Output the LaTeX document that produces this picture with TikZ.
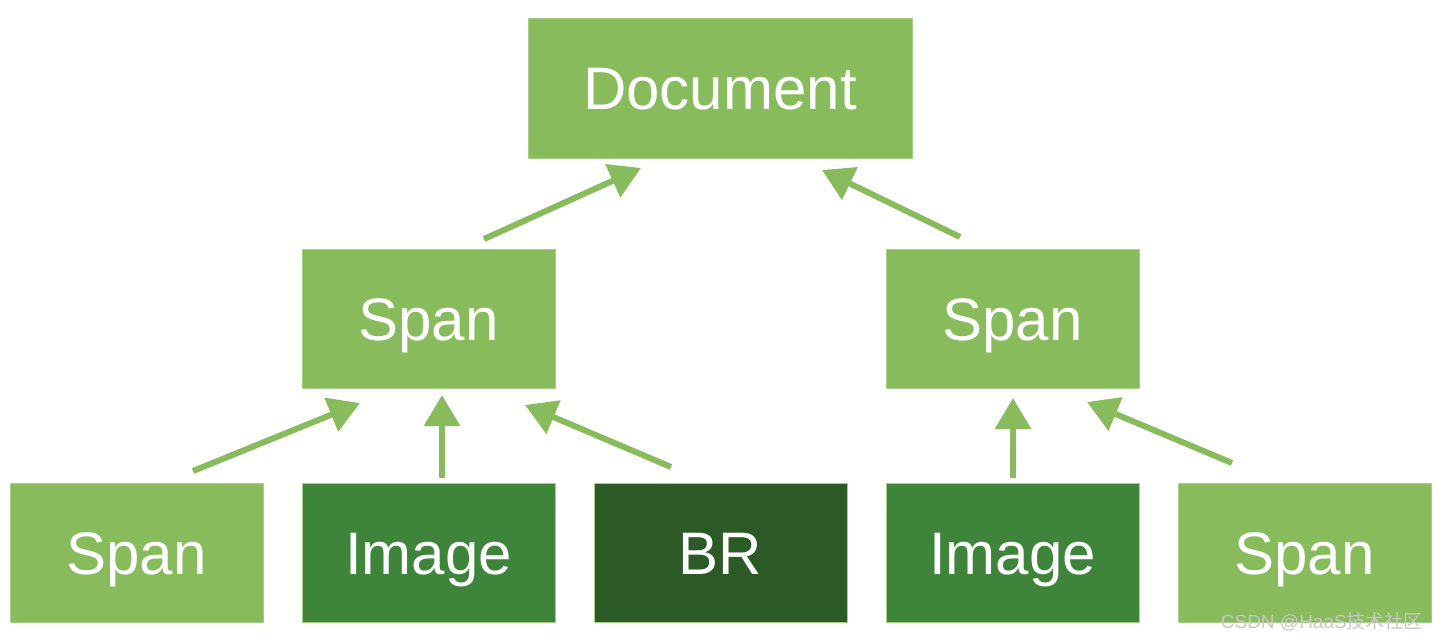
\documentclass[tikz,border=0pt]{standalone}
\usepackage{fontspec}
\setmainfont{Liberation Sans}
\newfontfamily\cjkfont{Noto Sans CJK SC}
\usetikzlibrary{arrows.meta}
\definecolor{lightg}{HTML}{88BB5C}
\definecolor{midg}{HTML}{3E843A}
\definecolor{darkg}{HTML}{2C5A27}
\definecolor{edgeg}{HTML}{A5D08A}
\definecolor{wmgray}{HTML}{C8C8C8}
\tikzset{
  box/.style={draw=edgeg, line width=1pt, minimum width=253pt, minimum height=139pt, inner sep=0pt,
    text=white, font=\fontsize{60}{60}\selectfont, text height=43pt, text depth=0pt},
  lbox/.style={box, fill=lightg},
  mbox/.style={box, fill=midg},
  dbox/.style={box, fill=darkg},
  conn/.style={draw=lightg, line width=6pt, -{Triangle[length=31pt,width=35pt]}},
}
\begin{document}
\begin{tikzpicture}[x=1pt,y=-1pt]
\useasboundingbox[fill=white] (0,0) rectangle (1438,640);
\node[lbox, minimum width=384pt, minimum height=140pt] (doc) at (720,88) {Document};
\node[lbox] (spanL) at (428.5,318.5) {Span};
\node[lbox] (spanR) at (1012.5,318.5) {Span};
\node[lbox] (b1) at (136.5,552.5) {Span};
\node[mbox] (b2) at (428.5,552.5) {Image};
\node[dbox] (b3) at (720.5,552.5) {BR};
\node[mbox] (b4) at (1012.5,552.5) {Image};
\node[lbox] (b5) at (1304.5,552.5) {Span};
% arrow endpoints
\coordinate (a1s) at (484,239); \coordinate (a1e) at (641,168);
\coordinate (a2s) at (960,237); \coordinate (a2e) at (822,170);
\coordinate (a3s) at (193,471); \coordinate (a3e) at (360,403);
\coordinate (a4s) at (442,478); \coordinate (a4e) at (442,395);
\coordinate (a5s) at (671,467); \coordinate (a5e) at (525,405);
\coordinate (a6s) at (1013,478); \coordinate (a6e) at (1013,398);
\coordinate (a7s) at (1232,463); \coordinate (a7e) at (1087,402);
\draw[conn] (a1s) -- (a1e);
\draw[conn] (a2s) -- (a2e);
\draw[conn] (a3s) -- (a3e);
\draw[conn] (a4s) -- (a4e);
\draw[conn] (a5s) -- (a5e);
\draw[conn] (a6s) -- (a6e);
\draw[conn] (a7s) -- (a7e);
\node[anchor=east, text=wmgray, font=\fontsize{19}{19}\selectfont, inner sep=0pt] (wm) at (1423,622) {CSDN @HaaS{\cjkfont 技术社区}};
\end{tikzpicture}
\end{document}
